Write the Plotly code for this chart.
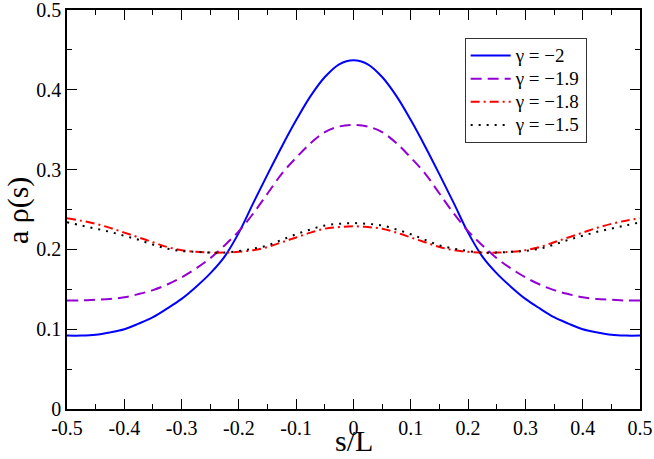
import plotly.graph_objects as go

s = [-0.5, -0.475, -0.45, -0.425, -0.4, -0.375, -0.35, -0.325, -0.3, -0.275, -0.25,
     -0.225, -0.2, -0.175, -0.15, -0.125, -0.1, -0.075, -0.05, -0.025, 0.0,
     0.025, 0.05, 0.075, 0.1, 0.125, 0.15, 0.175, 0.2, 0.225, 0.25,
     0.275, 0.3, 0.325, 0.35, 0.375, 0.4, 0.425, 0.45, 0.475, 0.5]

rho_g20 = [0.092, 0.092, 0.093, 0.096, 0.100, 0.107, 0.115, 0.126, 0.138, 0.153, 0.170,
           0.191, 0.221, 0.258, 0.294, 0.329, 0.362, 0.392, 0.416, 0.432, 0.437,
           0.432, 0.416, 0.392, 0.362, 0.329, 0.294, 0.258, 0.221, 0.191, 0.170,
           0.153, 0.138, 0.126, 0.115, 0.107, 0.100, 0.096, 0.093, 0.092, 0.092]

rho_g19 = [0.136, 0.136, 0.137, 0.138, 0.140, 0.144, 0.149, 0.156, 0.165, 0.176, 0.189,
           0.205, 0.223, 0.245, 0.270, 0.295, 0.315, 0.333, 0.347, 0.354, 0.356,
           0.354, 0.347, 0.333, 0.315, 0.295, 0.270, 0.245, 0.223, 0.205, 0.189,
           0.176, 0.165, 0.156, 0.149, 0.144, 0.140, 0.138, 0.137, 0.136, 0.136]

rho_g18 = [0.239, 0.236, 0.232, 0.227, 0.221, 0.215, 0.209, 0.203, 0.199, 0.197, 0.196,
           0.196, 0.197, 0.199, 0.203, 0.209, 0.215, 0.221, 0.226, 0.228, 0.229,
           0.228, 0.226, 0.221, 0.215, 0.209, 0.203, 0.199, 0.197, 0.196, 0.196,
           0.197, 0.199, 0.203, 0.209, 0.215, 0.221, 0.227, 0.232, 0.236, 0.239]

rho_g15 = [0.234, 0.230, 0.226, 0.222, 0.217, 0.212, 0.206, 0.201, 0.198, 0.197, 0.196,
           0.196, 0.198, 0.201, 0.205, 0.212, 0.219, 0.225, 0.230, 0.232, 0.233,
           0.232, 0.230, 0.225, 0.219, 0.212, 0.205, 0.201, 0.198, 0.196, 0.196,
           0.197, 0.198, 0.201, 0.206, 0.212, 0.217, 0.222, 0.226, 0.230, 0.234]

names = ["γ = −2", "γ = −1.9", "γ = −1.8", "γ = −1.5"]
colors = ["#0000ff", "#9400d3", "#ff0000", "#000000"]
dashes = ["solid", "11px,6px", "9px,4px,2px,4px", "2px,6px"]
series = [rho_g20, rho_g19, rho_g18, rho_g15]

xticks = [-0.5, -0.4, -0.3, -0.2, -0.1, 0, 0.1, 0.2, 0.3, 0.4, 0.5]
xticktext = ["-0.5", "-0.4", "-0.3", "-0.2", "-0.1", "0", "0.1", "0.2", "0.3", "0.4", "0.5"]
yticks = [0, 0.1, 0.2, 0.3, 0.4, 0.5]
yticktext = ["0", "0.1", "0.2", "0.3", "0.4", "0.5"]

fig = go.Figure()
for name, col, d, ys in zip(names, colors, dashes, series):
    fig.add_trace(go.Scatter(x=s, y=ys, mode="lines",
                             name="<span style='font-size:19px'>" + name + "</span>",
                             line=dict(color=col, width=2, dash=d, shape="spline", smoothing=1.0)))

ff = "Liberation Serif"
axis_common = dict(
    showline=True, linecolor="black", linewidth=1.5, mirror="allticks",
    ticks="inside", ticklen=10, tickwidth=1, tickcolor="black",
    showgrid=False, zeroline=False, automargin=False, ticklabeloverflow="allow",
    tickfont=dict(family=ff, size=20, color="black"),
)

fig.update_layout(
    width=654, height=459,
    margin=dict(l=67, r=14, t=10, b=50),
    paper_bgcolor="white", plot_bgcolor="white",
    xaxis=dict(range=[-0.5, 0.5], tickvals=xticks, ticktext=xticktext,
               minor=dict(ticks="inside", ticklen=5, tickcolor="black", dtick=0.05, showgrid=False),
               **axis_common),
    yaxis=dict(range=[0, 0.5], tickvals=yticks, ticktext=yticktext,
               minor=dict(ticks="inside", ticklen=5, tickcolor="black", dtick=0.05, showgrid=False),
               **axis_common),
    legend=dict(x=0.694, y=0.93, xanchor="left", yanchor="top",
                bgcolor="white", bordercolor="#333333", borderwidth=1,
                font=dict(family=ff, size=15.5, color="black"),
                tracegroupgap=0, itemwidth=40),
    showlegend=True,
    annotations=[
        dict(text="s/L", xref="paper", yref="paper", x=0.5, y=-0.078, xanchor="center", yanchor="middle",
             showarrow=False, font=dict(family=ff, size=30, color="black")),
        dict(text="a ρ(s)", xref="paper", yref="paper", x=-0.0855, y=0.496, xanchor="center", yanchor="middle",
             textangle=-90, showarrow=False, font=dict(family=ff, size=30, color="black")),
    ],
)

fig.write_html("out.html", config={"displayModeBar": False},
               post_script="document.body.style.margin='0px';")
